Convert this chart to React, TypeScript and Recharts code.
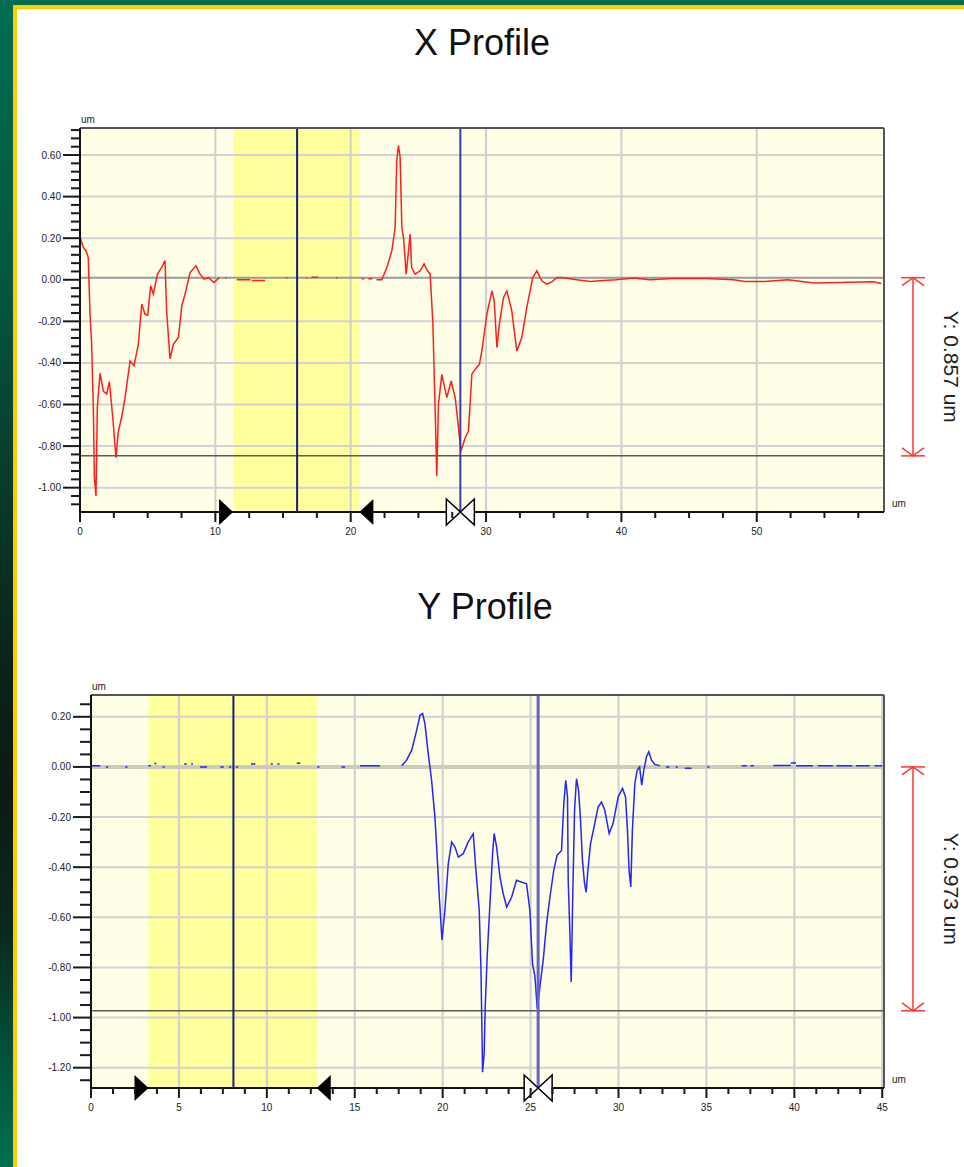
import React from 'react';
import {
  ComposedChart,
  Line,
  XAxis,
  YAxis,
  CartesianGrid,
  ReferenceArea,
  ReferenceLine,
  ReferenceDot,
} from 'recharts';

const FONT = '"Liberation Sans", Arial, Helvetica, sans-serif';

// ---------------- X profile (um along scan, height in um) ----------------
const xTraceLeft: [number, number][] = [
  [0.0, 0.19], [0.05, 0.196], [0.24, 0.156], [0.44, 0.14], [0.61, 0.107], [0.74, -0.165],
  [0.86, -0.31], [0.99, -0.63], [1.06, -0.95], [1.18, -1.04], [1.28, -0.615], [1.48, -0.45],
  [1.72, -0.535], [1.97, -0.55], [2.17, -0.49], [2.41, -0.655], [2.66, -0.856], [2.83, -0.73],
  [3.08, -0.66], [3.33, -0.567], [3.7, -0.39], [3.99, -0.414], [4.31, -0.31], [4.56, -0.117],
  [4.8, -0.165], [5.0, -0.17], [5.22, -0.029], [5.42, -0.069], [5.72, 0.027], [6.04, 0.059],
  [6.28, 0.092], [6.4, -0.15], [6.65, -0.38], [6.9, -0.31], [7.27, -0.278], [7.52, -0.125],
  [7.76, -0.069], [8.13, 0.035], [8.57, 0.067], [8.87, 0.027], [9.16, 0.003], [9.49, 0.01],
  [9.9, -0.013], [10.3, 0.011],
];
// isolated readings inside the flat region: [from, to, height]
const xFlatDashes: [number, number, number][] = [
  [10.72, 10.82, 0.01], [11.58, 12.6, 0.0], [12.7, 13.67, -0.004], [15.22, 15.32, 0.01],
  [16.7, 16.8, 0.01], [17.1, 17.6, 0.012], [18.92, 19.02, 0.01], [20.8, 21.0, 0.005],
  [21.3, 21.6, 0.005],
];
const xTraceRight: [number, number][] = [
  [21.9, 0.0], [22.3, 0.0], [22.67, 0.059], [23.04, 0.14], [23.28, 0.25], [23.4, 0.573],
  [23.53, 0.646], [23.65, 0.59], [23.78, 0.25], [23.9, 0.204], [24.1, 0.027], [24.39, 0.22],
  [24.5, 0.059], [24.76, 0.027], [25.13, 0.043], [25.42, 0.076], [25.67, 0.043], [25.87, 0.027],
  [26.07, -0.21], [26.24, -0.63], [26.36, -0.945], [26.48, -0.6], [26.73, -0.455], [27.1, -0.567],
  [27.42, -0.487], [27.72, -0.567], [27.96, -0.71], [28.14, -0.824], [28.46, -0.76], [28.7, -0.728],
  [28.95, -0.455], [29.2, -0.43], [29.51, -0.406], [29.69, -0.342], [30.06, -0.165], [30.43, -0.053],
  [30.6, -0.1], [30.8, -0.326], [30.99, -0.21], [31.29, -0.085], [31.54, -0.053], [31.9, -0.15],
  [32.27, -0.342], [32.64, -0.278], [33.01, -0.133], [33.45, 0.011], [33.75, 0.043], [34.12, -0.005],
  [34.49, -0.021], [34.86, -0.01], [35.23, 0.011], [35.72, 0.01], [36.7, 0.0], [37.7, -0.008],
  [38.4, -0.005], [39.6, 0.0], [40.9, 0.008], [42.1, 0.0], [43.8, 0.006], [46.3, 0.006], [48.3, 0.0],
  [49.1, -0.008], [50.6, -0.008], [52.3, 0.0], [54.2, -0.015], [56.1, -0.013], [58.6, -0.01],
  [59.2, -0.018],
];
const xMajorTicksX = [0, 10, 20, 30, 40, 50];
const xMajorTicksY = [0.6, 0.4, 0.2, 0, -0.2, -0.4, -0.6, -0.8, -1.0];
const xDomainX: [number, number] = [0, 59.4];
const xDomainY: [number, number] = [-1.117, 0.73];
const xBand: [number, number] = [11.31, 20.64];
const xCursors = [16.04, 28.1];
const xStepTop = 0.01;
const xStepHeight = 0.857;

// ---------------- Y profile ----------------
const yFlatDashesLeft: [number, number, number][] = [
  [0, 0.53, 0.005], [0.85, 0.97, 0.0], [1.95, 2.07, 0.0], [3.27, 3.4, 0.005], [3.6, 3.72, 0.014],
  [4.07, 4.19, 0.0], [5.3, 5.45, 0.012], [5.7, 5.8, 0.012], [6.2, 6.6, 0.0], [7.35, 7.55, 0.0],
  [7.85, 7.97, 0.0], [8.25, 8.37, 0.0], [9.1, 9.35, 0.012], [10.22, 10.34, 0.012],
  [10.6, 10.72, 0.012], [11.7, 11.9, 0.015], [12.87, 12.99, 0.0], [14.25, 14.45, 0.0],
  [15.3, 16.44, 0.005],
];
const yTraceMain: [number, number][] = [
  [17.67, 0.005], [17.95, 0.027], [18.24, 0.067], [18.52, 0.146], [18.71, 0.206], [18.86, 0.213],
  [18.99, 0.173], [19.18, 0.053], [19.37, -0.053], [19.56, -0.2], [19.69, -0.36], [19.81, -0.52],
  [19.96, -0.69], [20.13, -0.57], [20.32, -0.386], [20.51, -0.3], [20.7, -0.32], [20.89, -0.36],
  [21.17, -0.346], [21.45, -0.3], [21.74, -0.266], [21.89, -0.412], [22.08, -0.572], [22.18, -0.812],
  [22.27, -1.218], [22.36, -1.144], [22.42, -0.958], [22.53, -0.758], [22.69, -0.545], [22.84, -0.346],
  [22.93, -0.266], [23.07, -0.32], [23.26, -0.44], [23.44, -0.505], [23.64, -0.559], [23.92, -0.52],
  [24.2, -0.452], [24.5, -0.46], [24.77, -0.466], [24.96, -0.572], [25.11, -0.785], [25.25, -0.838],
  [25.38, -0.965], [25.53, -0.878], [25.72, -0.77], [25.91, -0.625], [26.1, -0.52], [26.32, -0.412],
  [26.51, -0.352], [26.67, -0.34], [26.76, -0.333], [26.89, -0.146], [27.0, -0.053], [27.1, -0.12],
  [27.14, -0.452], [27.23, -0.652], [27.31, -0.858], [27.39, -0.545], [27.5, -0.173], [27.61, -0.047],
  [27.73, -0.093], [27.84, -0.213], [27.95, -0.372], [28.07, -0.466], [28.16, -0.5], [28.26, -0.412],
  [28.41, -0.306], [28.65, -0.226], [28.84, -0.16], [29.03, -0.14], [29.22, -0.173], [29.47, -0.266],
  [29.69, -0.226], [29.98, -0.12], [30.23, -0.086], [30.4, -0.12], [30.51, -0.253], [30.6, -0.412],
  [30.7, -0.479], [30.79, -0.253], [30.93, -0.066], [31.06, -0.013], [31.2, 0.0], [31.32, -0.073],
  [31.44, -0.013], [31.59, 0.04], [31.72, 0.06], [31.88, 0.027], [32.06, 0.01], [32.35, 0.005],
];
const yFlatDashesRight: [number, number, number][] = [
  [32.7, 32.9, 0.0], [33.25, 33.37, 0.0], [33.77, 34.15, -0.005], [35.05, 35.17, 0.0],
  [37.0, 37.3, 0.005], [37.5, 37.7, 0.005], [38.8, 39.8, 0.006], [39.8, 40.1, 0.016],
  [40.1, 41.06, 0.005], [41.34, 42.2, 0.005], [42.4, 43.3, 0.005], [43.5, 44.28, 0.005],
  [44.56, 45.0, 0.005],
];
const yMajorTicksX = [0, 5, 10, 15, 20, 25, 30, 35, 40, 45];
const yMajorTicksY = [0.2, 0, -0.2, -0.4, -0.6, -0.8, -1.0, -1.2];
const yDomainX: [number, number] = [0, 45.1];
const yDomainY: [number, number] = [-1.281, 0.287];
const yBand: [number, number] = [3.27, 12.84];
const yCursors = [8.1, 25.43];
const yStepTop = 0.0;
const yStepHeight = 0.973;

// ---------------- helpers ----------------
type Pt = { x: number; y: number | null };

function dashSegments(d: [number, number, number][]): [number, number][][] {
  return d.map(([a, b, h]) => [[a, h], [b, h]] as [number, number][]);
}

function buildTrace(parts: [number, number][][]): Pt[] {
  const out: Pt[] = [];
  parts.forEach((seg, i) => {
    if (i > 0) out.push({ x: seg[0][0], y: null });
    seg.forEach(([x, y]) => out.push({ x, y }));
  });
  return out;
}

function tickList(step: number, lo: number, hi: number): number[] {
  const out: number[] = [];
  const start = Math.ceil(lo / step - 1e-9);
  for (let k = start; k * step <= hi + 1e-9; k++) out.push(Math.round(k * step * 1000) / 1000);
  return out;
}

const isIn = (list: number[], v: number) => list.some((m) => Math.abs(m - v) < 1e-6);

const xTrace = buildTrace([xTraceLeft, ...dashSegments(xFlatDashes), xTraceRight]);
const yTrace = buildTrace([...dashSegments(yFlatDashesLeft), yTraceMain, ...dashSegments(yFlatDashesRight)]);

// ---------------- marks ----------------
const triRight = (p: any) => (
  <path d={`M${p.cx - 14},${p.cy - 13} L${p.cx},${p.cy} L${p.cx - 14},${p.cy + 13} Z`} fill="#000" />
);
const triLeft = (p: any) => (
  <path d={`M${p.cx + 14},${p.cy - 13} L${p.cx},${p.cy} L${p.cx + 14},${p.cy + 13} Z`} fill="#000" />
);
const bowTie = (p: any) => (
  <g>
    <path d={`M${p.cx - 14},${p.cy - 13} L${p.cx},${p.cy} L${p.cx - 14},${p.cy + 13} Z`} fill="#fff" stroke="#000" strokeWidth={1.5} />
    <path d={`M${p.cx + 14},${p.cy - 13} L${p.cx},${p.cy} L${p.cx + 14},${p.cy + 13} Z`} fill="#fff" stroke="#000" strokeWidth={1.5} />
  </g>
);

function heightMarker(label: string) {
  return (p: any) => {
    const x = p.x + p.width + 29;
    const y0 = p.y;
    const y1 = p.y + p.height;
    const cy = (y0 + y1) / 2;
    const tx = p.x + p.width + 60;
    const red = '#ff3434';
    return (
      <g>
        <line x1={x} x2={x} y1={y0} y2={y1} stroke={red} strokeWidth={1.5} />
        <line x1={x - 12} x2={x + 12} y1={y0} y2={y0} stroke={red} strokeWidth={1.5} />
        <line x1={x - 12} x2={x + 12} y1={y1} y2={y1} stroke={red} strokeWidth={1.5} />
        <polyline points={`${x - 11},${y0 + 8} ${x},${y0} ${x + 11},${y0 + 8}`} fill="none" stroke={red} strokeWidth={1.5} />
        <polyline points={`${x - 11},${y1 - 8} ${x},${y1} ${x + 11},${y1 - 8}`} fill="none" stroke={red} strokeWidth={1.5} />
        <text
          x={tx}
          y={cy}
          transform={`rotate(90 ${tx} ${cy})`}
          textAnchor="middle"
          fontSize={21}
          fontFamily={FONT}
          fill="#222"
        >
          {label}
        </text>
      </g>
    );
  };
}

type PanelProps = {
  height: number;
  margin: { top: number; right: number; bottom: number; left: number };
  yAxisWidth: number;
  trace: Pt[];
  color: string;
  domainX: [number, number];
  domainY: [number, number];
  majorX: number[];
  majorY: number[];
  minorStepX: number;
  minorStepY: number;
  band: [number, number];
  cursors: number[];
  cursorColors: string[];
  cursorWidths: number[];
  stepTop: number;
  stepHeight: number;
  zeroStroke: string;
  zeroWidth: number;
  yMajorLen: number;
  yMinorLen: number;
};

function ProfilePanel(p: PanelProps) {
  const xTicks = tickList(p.minorStepX, p.domainX[0], p.domainX[1]);
  const yTicks = tickList(p.minorStepY, p.domainY[0], p.domainY[1]);
  const stepLow = p.stepTop - p.stepHeight;

  const renderYTick = (t: any) => {
    const v = t.payload.value;
    const major = isIn(p.majorY, v);
    const len = major ? p.yMajorLen : p.yMinorLen;
    return (
      <g>
        <line x1={t.x - len} x2={t.x} y1={t.y} y2={t.y} stroke="#1a1a1a" strokeWidth={2} />
        {major && (
          <text x={t.x - p.yMajorLen - 2} y={t.y + 3.5} textAnchor="end" fontSize={10} fontFamily={FONT} fill="#222">
            {v.toFixed(2)}
          </text>
        )}
      </g>
    );
  };

  const renderXTick = (t: any) => {
    const v = t.payload.value;
    const major = isIn(p.majorX, v);
    const len = major ? 10 : 6;
    return (
      <g>
        <line x1={t.x} x2={t.x} y1={t.y} y2={t.y + len} stroke="#1a1a1a" strokeWidth={2} />
        {major && (
          <text x={t.x} y={t.y + 23} textAnchor="middle" fontSize={10} fontFamily={FONT} fill="#222">
            {String(v)}
          </text>
        )}
      </g>
    );
  };

  const xUnit = (lp: any) => {
    const vb = lp.viewBox;
    return (
      <text x={vb.x + vb.width + 8} y={vb.y - 5} fontSize={10} fontFamily={FONT} fill="#222">
        um
      </text>
    );
  };
  const yUnit = (lp: any) => {
    const vb = lp.viewBox;
    return (
      <text x={vb.x + vb.width + 1} y={vb.y - 5} fontSize={10} fontFamily={FONT} fill="#222">
        um
      </text>
    );
  };

  return (
    <ComposedChart width={964} height={p.height} margin={p.margin}>
      <CartesianGrid fill="#fffee6" fillOpacity={1} horizontal={false} vertical={false} />
      <XAxis
        type="number"
        dataKey="x"
        domain={p.domainX}
        ticks={xTicks}
        interval={0}
        allowDataOverflow
        height={30}
        tickLine={false}
        tickSize={0}
        tickMargin={0}
        axisLine={{ stroke: '#111', strokeWidth: 2 }}
        tick={renderXTick}
        label={xUnit}
      />
      <YAxis
        type="number"
        domain={p.domainY}
        ticks={yTicks}
        interval={0}
        allowDataOverflow
        width={p.yAxisWidth}
        tickLine={false}
        tickSize={0}
        tickMargin={0}
        axisLine={{ stroke: '#111', strokeWidth: 2 }}
        tick={renderYTick}
        label={yUnit}
      />
      <ReferenceArea x1={p.band[0]} x2={p.band[1]} fill="#ffff9c" fillOpacity={1} stroke="none" />
      {p.majorX
        .filter((v) => v > p.domainX[0])
        .map((v) => (
          <ReferenceLine key={`gx${v}`} x={v} stroke="#cfcfcf" strokeWidth={2} />
        ))}
      {p.majorY
        .filter((v) => v !== 0)
        .map((v) => (
          <ReferenceLine key={`gy${v}`} y={v} stroke="#d2d2d2" strokeWidth={2} />
        ))}
      <ReferenceLine y={p.stepTop} stroke={p.zeroStroke} strokeWidth={p.zeroWidth} />
      <ReferenceLine y={stepLow} stroke="#5a5a5a" strokeWidth={1.5} />
      <Line
        data={p.trace}
        dataKey="y"
        type="linear"
        stroke={p.color}
        strokeWidth={1.5}
        dot={false}
        activeDot={false}
        connectNulls={false}
        isAnimationActive={false}
      />
      {p.cursors.map((c, i) => (
        <ReferenceLine key={`c${i}`} x={c} stroke={p.cursorColors[i]} strokeWidth={p.cursorWidths[i]} />
      ))}
      <ReferenceLine y={p.domainY[1]} stroke="#555" strokeWidth={2} />
      <ReferenceLine x={p.domainX[1]} stroke="#555" strokeWidth={2} />
      <ReferenceArea y1={stepLow} y2={p.stepTop} shape={heightMarker(`Y: ${p.stepHeight.toFixed(3)} um`)} />
      <ReferenceDot x={p.band[0]} y={p.domainY[0]} shape={triRight} ifOverflow="visible" />
      <ReferenceDot x={p.band[1]} y={p.domainY[0]} shape={triLeft} ifOverflow="visible" />
      <ReferenceDot x={p.cursors[1]} y={p.domainY[0]} shape={bowTie} ifOverflow="visible" />
    </ComposedChart>
  );
}

export default function App() {
  return (
    <div
      style={{
        position: 'absolute',
        left: 0,
        top: 0,
        width: 964,
        height: 1167,
        overflow: 'hidden',
        background:
          'linear-gradient(180deg, #006d53 0%, #03563f 25%, #093a2c 42%, #0b2219 58%, #0d1a14 68%, #0a2a1f 80%, #02503a 90%, #007052 100%)',
      }}
    >
      <div style={{ position: 'absolute', left: 13, top: 5, right: 0, bottom: 0, background: '#ffcc00' }} />
      <div style={{ position: 'absolute', left: 17, top: 9, right: 0, bottom: 0, background: '#ffffff' }} />
      <svg width={964} height={1167} style={{ position: 'absolute', left: 0, top: 0 }}>
        <text x={482} y={55} textAnchor="middle" fontSize={36} fontFamily={FONT} fill="#111">
          X Profile
        </text>
        <text x={485} y={619} textAnchor="middle" fontSize={36} fontFamily={FONT} fill="#111">
          Y Profile
        </text>
      </svg>
      <div style={{ position: 'absolute', left: 0, top: 0 }}>
        <ProfilePanel
          height={560}
          margin={{ top: 128, right: 80, bottom: 18, left: 20 }}
          yAxisWidth={60}
          trace={xTrace}
          color="#ff1e1e"
          domainX={xDomainX}
          domainY={xDomainY}
          majorX={xMajorTicksX}
          majorY={xMajorTicksY}
          minorStepX={2.5}
          minorStepY={0.04}
          band={xBand}
          cursors={xCursors}
          cursorColors={['#1c1c78', '#3a3aa8']}
          cursorWidths={[2, 2]}
          stepTop={xStepTop}
          stepHeight={xStepHeight}
          zeroStroke="#9a9a9a"
          zeroWidth={2}
          yMajorLen={17}
          yMinorLen={9}
        />
      </div>
      <div style={{ position: 'absolute', left: 0, top: 560 }}>
        <ProfilePanel
          height={600}
          margin={{ top: 135, right: 80, bottom: 42, left: 20 }}
          yAxisWidth={71}
          trace={yTrace}
          color="#2424ff"
          domainX={yDomainX}
          domainY={yDomainY}
          majorX={yMajorTicksX}
          majorY={yMajorTicksY}
          minorStepX={1.25}
          minorStepY={0.05}
          band={yBand}
          cursors={yCursors}
          cursorColors={['#1c1c78', '#6464c4']}
          cursorWidths={[2, 3]}
          stepTop={yStepTop}
          stepHeight={yStepHeight}
          zeroStroke="#cbcbbd"
          zeroWidth={4}
          yMajorLen={18}
          yMinorLen={11}
        />
      </div>
    </div>
  );
}
